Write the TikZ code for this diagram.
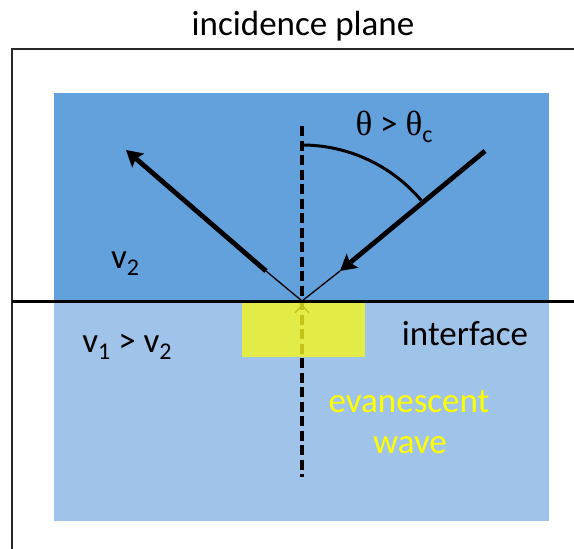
\documentclass[tikz,border=0pt]{standalone}
\usepackage{fontspec}
\setmainfont{Carlito}
\newfontfamily\symfont{Liberation Serif}
\usetikzlibrary{arrows.meta}
\definecolor{upblue}{RGB}{99,161,220}
\definecolor{lowblue}{RGB}{159,195,233}
\definecolor{evyellow}{RGB}{245,245,30}
\definecolor{evtext}{RGB}{255,255,0}
\definecolor{framegray}{RGB}{40,40,40}
\newcommand{\mysub}[1]{\raisebox{-0.2em}{\fontsize{24}{24}\selectfont #1}}
\tikzset{
  lbl/.style={inner sep=0pt, anchor=base, font=\fontsize{35}{42}\selectfont},
  thickray/.style={line width=4.8pt, -{Stealth[length=16pt,width=18pt,inset=3pt]}},
  thinray/.style={line width=1.3pt},
  normal/.style={line width=3.4pt, dash pattern=on 10pt off 4.5pt},
}
\begin{document}
\begin{tikzpicture}[x=1pt,y=-1pt]
\useasboundingbox (0,0) rectangle (574,549);
\fill[white] (0,0) rectangle (574,549);
% frame
\draw[framegray, line width=2pt] (12,600) -- (12,49) -- (600,49);
% media
\fill[upblue] (54,93) rectangle (549,301);
\fill[lowblue] (54,301) rectangle (549,521);
% key points
\coordinate (O) at (302,301);
\coordinate (A) at (485,151);
\coordinate (B) at (340,271);
\coordinate (C) at (266,271);
\coordinate (D) at (126,150);
\coordinate (Ntop) at (302,126);
\coordinate (Nbot) at (302,477);
\coordinate (IL) at (12,301);
\coordinate (IR) at (574,301);
% normal
\draw[normal] (Ntop) -- (Nbot);
% faint chevron under evanescent box
\draw[line width=1.3pt] (295,313) -- (302,305) -- (309,313);
% evanescent box
\fill[evyellow, fill opacity=0.8] (242,303) rectangle (365,357);
% interface
\draw[line width=3pt] (IL) -- (IR);
% rays
\draw[thickray] (A) -- (B);
\draw[thinray] (B) -- (O) -- (C);
\draw[thickray] (C) -- (D);
% angle arc
\draw[line width=3pt] (302,145) arc[start angle=-90, end angle=-40.2, radius=156];
% labels
\node[lbl] (title) at (303,35) {incidence plane};
\node[lbl] (theta) at (394,135) {{\symfont θ} > {\symfont θ}\mysub{c}};
\node[lbl] (v2) at (125,268) {v\mysub{2}};
\node[lbl] (v1v2) at (127,352) {v\mysub{1} > v\mysub{2}};
\node[lbl] (iface) at (465,345) {interface};
\node[lbl, text=evtext] (ev1) at (409,412) {evanescent};
\node[lbl, text=evtext] (ev2) at (410,453) {wave};
\end{tikzpicture}
\end{document}
